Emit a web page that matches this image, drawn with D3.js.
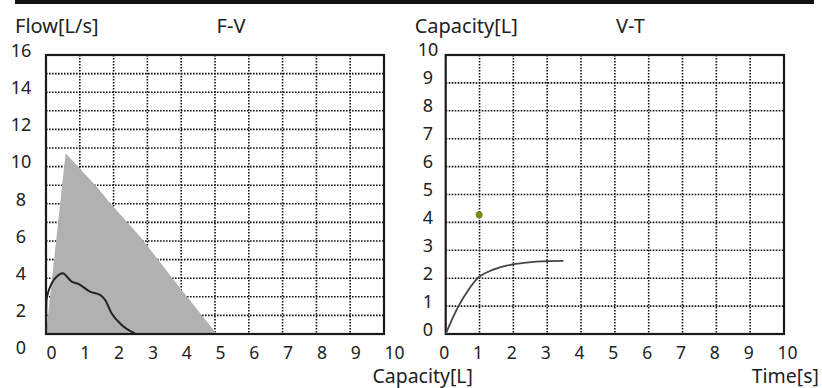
<!DOCTYPE html>
<html>
<head>
<meta charset="utf-8">
<script src="https://cdn.jsdelivr.net/npm/d3@7"></script>
<style>
  body { margin: 0; background: #fff; }
  svg { display: block; }
  text { font-family: "Noto Sans", sans-serif; fill: #222; }
</style>
</head>
<body>
<svg id="chart" width="822" height="388"></svg>
<script>
// F-V panel data (capacity [L], flow [L/s])
const fvTicksX = [0, 1, 2, 3, 4, 5, 6, 7, 8, 9, 10];
const fvTicksY = [0, 2, 4, 6, 8, 10, 12, 14, 16];
const fvGridRows = 15;
const fvPredictedVol = [0, 0.58, 1.5, 1.9, 2.8, 3.78, 5.05];
const fvPredictedFlow = [0, 10.36, 8.45, 7.5, 5.55, 3.1, 0];
const fvMeasuredVol = [0, 0.015, 0.17, 0.32, 0.49, 0.76, 0.96, 1.3, 1.6, 1.75, 1.94, 2.24, 2.63];
const fvMeasuredFlow = [0, 1.95, 2.91, 3.29, 3.48, 3.0, 2.87, 2.43, 2.24, 1.95, 1.19, 0.52, 0.03];

// V-T panel data (time [s], capacity [L])
const vtTicksX = [0, 1, 2, 3, 4, 5, 6, 7, 8, 9, 10];
const vtTicksY = [0, 1, 2, 3, 4, 5, 6, 7, 8, 9, 10];
const vtTime = [0, 0.37, 0.67, 0.96, 1.31, 1.8, 2.39, 2.99, 3.48];
const vtCapacity = [0, 0.98, 1.58, 2.02, 2.26, 2.45, 2.56, 2.61, 2.62];
const vtMarkerTime = [0.99];
const vtMarkerCapacity = [4.27];

const svg = d3.select("#chart");

// black strip on top
svg.append("rect").attr("x", 15).attr("y", 0).attr("width", 799).attr("height", 4).attr("fill", "#111");

function drawPanel(p) {
  const g = svg.append("g");
  const x = d3.scaleLinear().domain([0, 10]).range([p.left, p.right]);
  const y = d3.scaleLinear().domain([0, p.yMax]).range([334, 55]);
  const gridY = d3.scaleLinear().domain([0, p.rows]).range([334, 55]);

  // dotted grid
  g.append("g").selectAll("line").data(d3.range(1, 10)).join("line")
    .attr("x1", d => x(d)).attr("x2", d => x(d)).attr("y1", 55).attr("y2", 334);
  g.append("g").selectAll("line").data(d3.range(1, p.rows)).join("line")
    .attr("x1", p.left).attr("x2", p.right).attr("y1", d => gridY(d)).attr("y2", d => gridY(d));
  g.selectAll("line").attr("stroke", "#111").attr("stroke-width", 1.6).attr("stroke-dasharray", "1.6,1.4");

  if (p.area) {
    g.append("path")
      .attr("d", d3.line().x(d => x(d[0])).y(d => y(d[1]))(p.area) + "Z")
      .attr("fill", "#b1b1b1");
  }

  // frame
  g.append("rect").attr("x", p.left).attr("y", 55).attr("width", p.right - p.left).attr("height", 279)
    .attr("fill", "none").attr("stroke", "#1a1a1a").attr("stroke-width", 2.2);

  g.append("path")
    .attr("d", d3.line().curve(d3.curveMonotoneX).x(d => x(d[0])).y(d => y(d[1]))(p.line))
    .attr("fill", "none").attr("stroke", p.lineColor).attr("stroke-width", p.lineWidth);

  if (p.dots) {
    g.selectAll("circle.dot").data(p.dots).join("circle")
      .attr("cx", d => x(d[0])).attr("cy", d => y(d[1])).attr("r", 3.5).attr("fill", "#7b8a1c");
  }

  // tick labels (device places them slightly off the grid)
  const lx = d3.scaleLinear().domain([0, 10]).range([p.left + p.xLabelShift, p.right + p.xLabelShift]);
  const axX = g.append("g").attr("transform", "translate(0,358.5)")
    .call(d3.axisBottom(lx).tickValues(p.ticksX).tickSize(0).tickPadding(0).tickFormat(d3.format("d")));
  axX.select(".domain").remove();
  axX.selectAll("text").attr("text-anchor", "start").attr("dy", 0).attr("fill", null).style("font-size", "17.5px");

  const ly = d3.scaleLinear().domain([0, p.yMax]).range(p.yLabelRange);
  const axY = g.append("g").attr("transform", "translate(" + p.yLabelX + ",0)")
    .call(d3.axisLeft(ly).tickValues(p.ticksY).tickSize(0).tickPadding(0).tickFormat(d3.format("d")));
  axY.select(".domain").remove();
  axY.selectAll("text").attr("text-anchor", "middle").attr("dy", "0.36em").attr("x", 0).attr("fill", null).style("font-size", "18px");

  // titles
  g.append("text").attr("x", p.left - 31).attr("y", 33).text(p.yTitle).style("font-size", "20px");
  g.append("text").attr("x", p.titleX).attr("y", 33).attr("text-anchor", "middle").text(p.title).style("font-size", "20px");
  g.append("text").attr("x", p.xTitleX).attr("y", 383).attr("text-anchor", "end").text(p.xTitle).style("font-size", "19.5px");
}

drawPanel({
  left: 46, right: 384, yMax: 16, rows: fvGridRows,
  area: fvPredictedVol.map((v, i) => [v, fvPredictedFlow[i]]),
  line: fvMeasuredVol.map((v, i) => [v, fvMeasuredFlow[i]]),
  lineColor: "#222", lineWidth: 2,
  ticksX: fvTicksX, ticksY: fvTicksY, xLabelShift: 0,
  yLabelX: 21, yLabelRange: [347.5, 49.7],
  yTitle: "Flow[L/s]", title: "F-V", titleX: 231,
  xTitle: "Capacity[L]", xTitleX: 473
});

drawPanel({
  left: 445.7, right: 784, yMax: 10, rows: 10,
  line: vtTime.map((t, i) => [t, vtCapacity[i]]),
  lineColor: "#444", lineWidth: 1.8,
  dots: vtMarkerTime.map((t, i) => [t, vtMarkerCapacity[i]]),
  ticksX: vtTicksX, ticksY: vtTicksY, xLabelShift: -7,
  yLabelX: 428, yLabelRange: [329, 49.3],
  yTitle: "Capacity[L]", title: "V-T", titleX: 630.5,
  xTitle: "Time[s]", xTitleX: 819
});
</script>
</body>
</html>
